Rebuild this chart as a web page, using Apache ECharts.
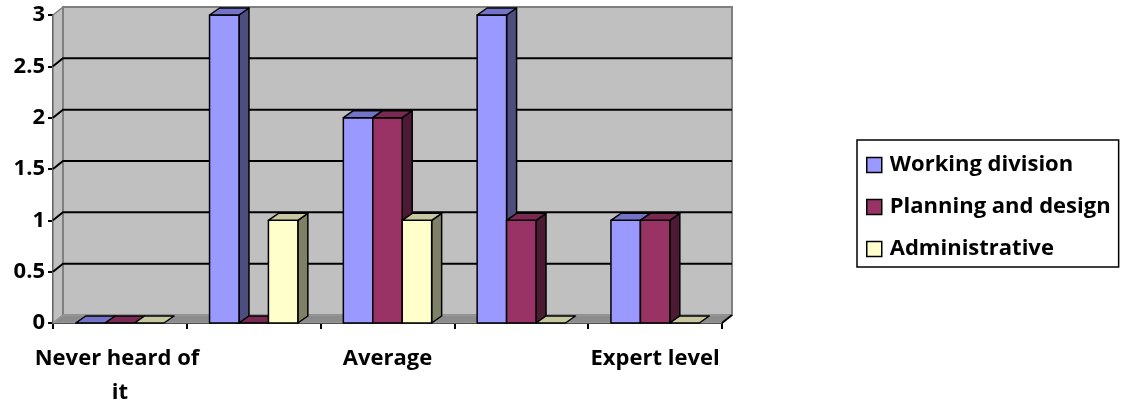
<!DOCTYPE html>
<html>
<head>
<meta charset="utf-8">
<script src="https://cdn.jsdelivr.net/npm/echarts@6/dist/echarts.min.js"></script>
<style>
html,body{margin:0;padding:0;background:#fff;}
#chart{width:1128px;height:402px;}
</style>
</head>
<body>
<div id="chart"></div>
<script>
const categories = ['Never heard of it', 'Basic', 'Average', 'Good', 'Expert level'];
const seriesNames = ['Working division', 'Planning and design', 'Administrative'];
const working = [0, 3, 2, 3, 1];
const planning = [0, 0, 2, 1, 1];
const administrative = [0, 1, 1, 0, 0];
const gridValues = [0.5, 1, 1.5, 2, 2.5];

const frontColors = ['#9999FF', '#993366', '#FFFFCC'];
const topColors = ['#7373C8', '#7A2952', '#C8C8A0'];
const sideColors = ['#4D4D80', '#4D1A33', '#808066'];

const FONT = 'Open Sans';
const FS = 22;
const WDX = 10, WDY = 8;   // wall depth
const BDX = 10, BDY = 7;   // bar depth
const BAR_FRAC = 0.22;

function barRenderer(k) {
  return function (params, api) {
    const idx = api.value(0), v = api.value(1);
    const base = api.coord([idx, 0]);
    const top = api.coord([idx, v]);
    const band = api.size([1, 0])[0];
    const bw = band * BAR_FRAC;
    const xl = base[0] - 1.5 * bw + k * bw;
    const yb = base[1], yt = top[1];
    const stroke = {stroke: '#000', lineWidth: 1.5, lineJoin: 'round'};
    const children = [];
    if (yb - yt > 0.5) {
      children.push({type: 'polygon', shape: {points: [[xl + bw, yt], [xl + bw + BDX, yt - BDY], [xl + bw + BDX, yb - BDY], [xl + bw, yb]]},
        style: Object.assign({fill: sideColors[k]}, stroke)});
      children.push({type: 'rect', shape: {x: xl, y: yt, width: bw, height: yb - yt},
        style: Object.assign({fill: frontColors[k]}, stroke)});
    }
    children.push({type: 'polygon', shape: {points: [[xl, yt], [xl + BDX, yt - BDY], [xl + bw + BDX, yt - BDY], [xl + bw, yt]]},
      style: Object.assign({fill: topColors[k]}, stroke)});
    return {type: 'group', children: children};
  };
}

function toPairs(arr) { return arr.map((v, i) => [i, v]); }

const chart = echarts.init(document.getElementById('chart'));
const option = {
  animation: false,
  backgroundColor: '#fff',
  grid: {left: 53, top: 15, width: 669, height: 308, containLabel: false, outerBoundsMode: 'none'},
  xAxis: {
    type: 'category', data: categories,
    axisLine: {show: true, lineStyle: {color: '#000', width: 2}},
    axisTick: {show: true, length: 6, interval: 0, lineStyle: {color: '#000', width: 2}},
    axisLabel: {interval: 1, color: '#000', fontFamily: FONT, fontWeight: 'bold', fontSize: FS,
      margin: 19, width: 172, overflow: 'break', lineHeight: 34},
    splitLine: {show: false}
  },
  yAxis: {
    type: 'value', min: 0, max: 3, interval: 0.5,
    axisLine: {show: true, lineStyle: {color: '#000', width: 2}},
    axisTick: {show: true, length: 5, lineStyle: {color: '#000', width: 2}},
    axisLabel: {color: '#000', fontFamily: FONT, fontWeight: 'bold', fontSize: FS, margin: 8},
    splitLine: {show: false}
  },
  legend: {
    orient: 'vertical', left: 857, top: 140,
    data: seriesNames,
    icon: 'rect', itemWidth: 15, itemHeight: 15, itemGap: 18,
    padding: [13, 8, 6, 9],
    borderColor: '#000', borderWidth: 1.5,
    itemStyle: {borderColor: '#000', borderWidth: 1.5},
    textStyle: {color: '#000', fontFamily: FONT, fontWeight: 'bold', fontSize: FS, lineHeight: 24, padding: [0, 0, 0, 3]}
  },
  series: [
    {
      type: 'custom', silent: true, z: 1, data: [[0, 0]],
      renderItem: function (params, api) {
        const cs = params.coordSys;
        const x0 = cs.x, y0 = cs.y, w = cs.width, h = cs.height;
        return {type: 'group', children: [
          {type: 'polygon', shape: {points: [[x0, y0], [x0 + WDX, y0 - WDY], [x0 + WDX, y0 + h - WDY], [x0, y0 + h]]},
            style: {fill: '#C0C0C0', stroke: '#808080', lineWidth: 1.5}},
          {type: 'rect', shape: {x: x0 + WDX, y: y0 - WDY, width: w, height: h},
            style: {fill: '#C0C0C0', stroke: '#808080', lineWidth: 2}},
          {type: 'polygon', shape: {points: [[x0, y0 + h], [x0 + WDX, y0 + h - WDY], [x0 + w + WDX, y0 + h - WDY], [x0 + w, y0 + h]]},
            style: {fill: '#8C8C8C', stroke: '#A0A0A0', lineWidth: 1}},
          {type: 'line', shape: {x1: x0 + w, y1: y0 + h, x2: x0 + w + WDX, y2: y0 + h - WDY},
            style: {stroke: '#000', lineWidth: 2}}
        ]};
      }
    },
    {
      type: 'custom', silent: true, z: 2, data: gridValues.map(v => [0, v]),
      renderItem: function (params, api) {
        const cs = params.coordSys;
        const y = api.coord([0, api.value(1)])[1];
        return {type: 'polyline', shape: {points: [[cs.x, y], [cs.x + WDX, y - WDY], [cs.x + cs.width + WDX, y - WDY]]},
          style: {stroke: '#000', lineWidth: 2, fill: null}};
      }
    },
    {name: seriesNames[0], type: 'custom', z: 3, data: toPairs(working), renderItem: barRenderer(0),
      itemStyle: {color: frontColors[0]}, encode: {x: 0, y: 1}},
    {name: seriesNames[1], type: 'custom', z: 4, data: toPairs(planning), renderItem: barRenderer(1),
      itemStyle: {color: frontColors[1]}, encode: {x: 0, y: 1}},
    {name: seriesNames[2], type: 'custom', z: 5, data: toPairs(administrative), renderItem: barRenderer(2),
      itemStyle: {color: frontColors[2]}, encode: {x: 0, y: 1}}
  ]
};
chart.setOption(option);
</script>
</body>
</html>
